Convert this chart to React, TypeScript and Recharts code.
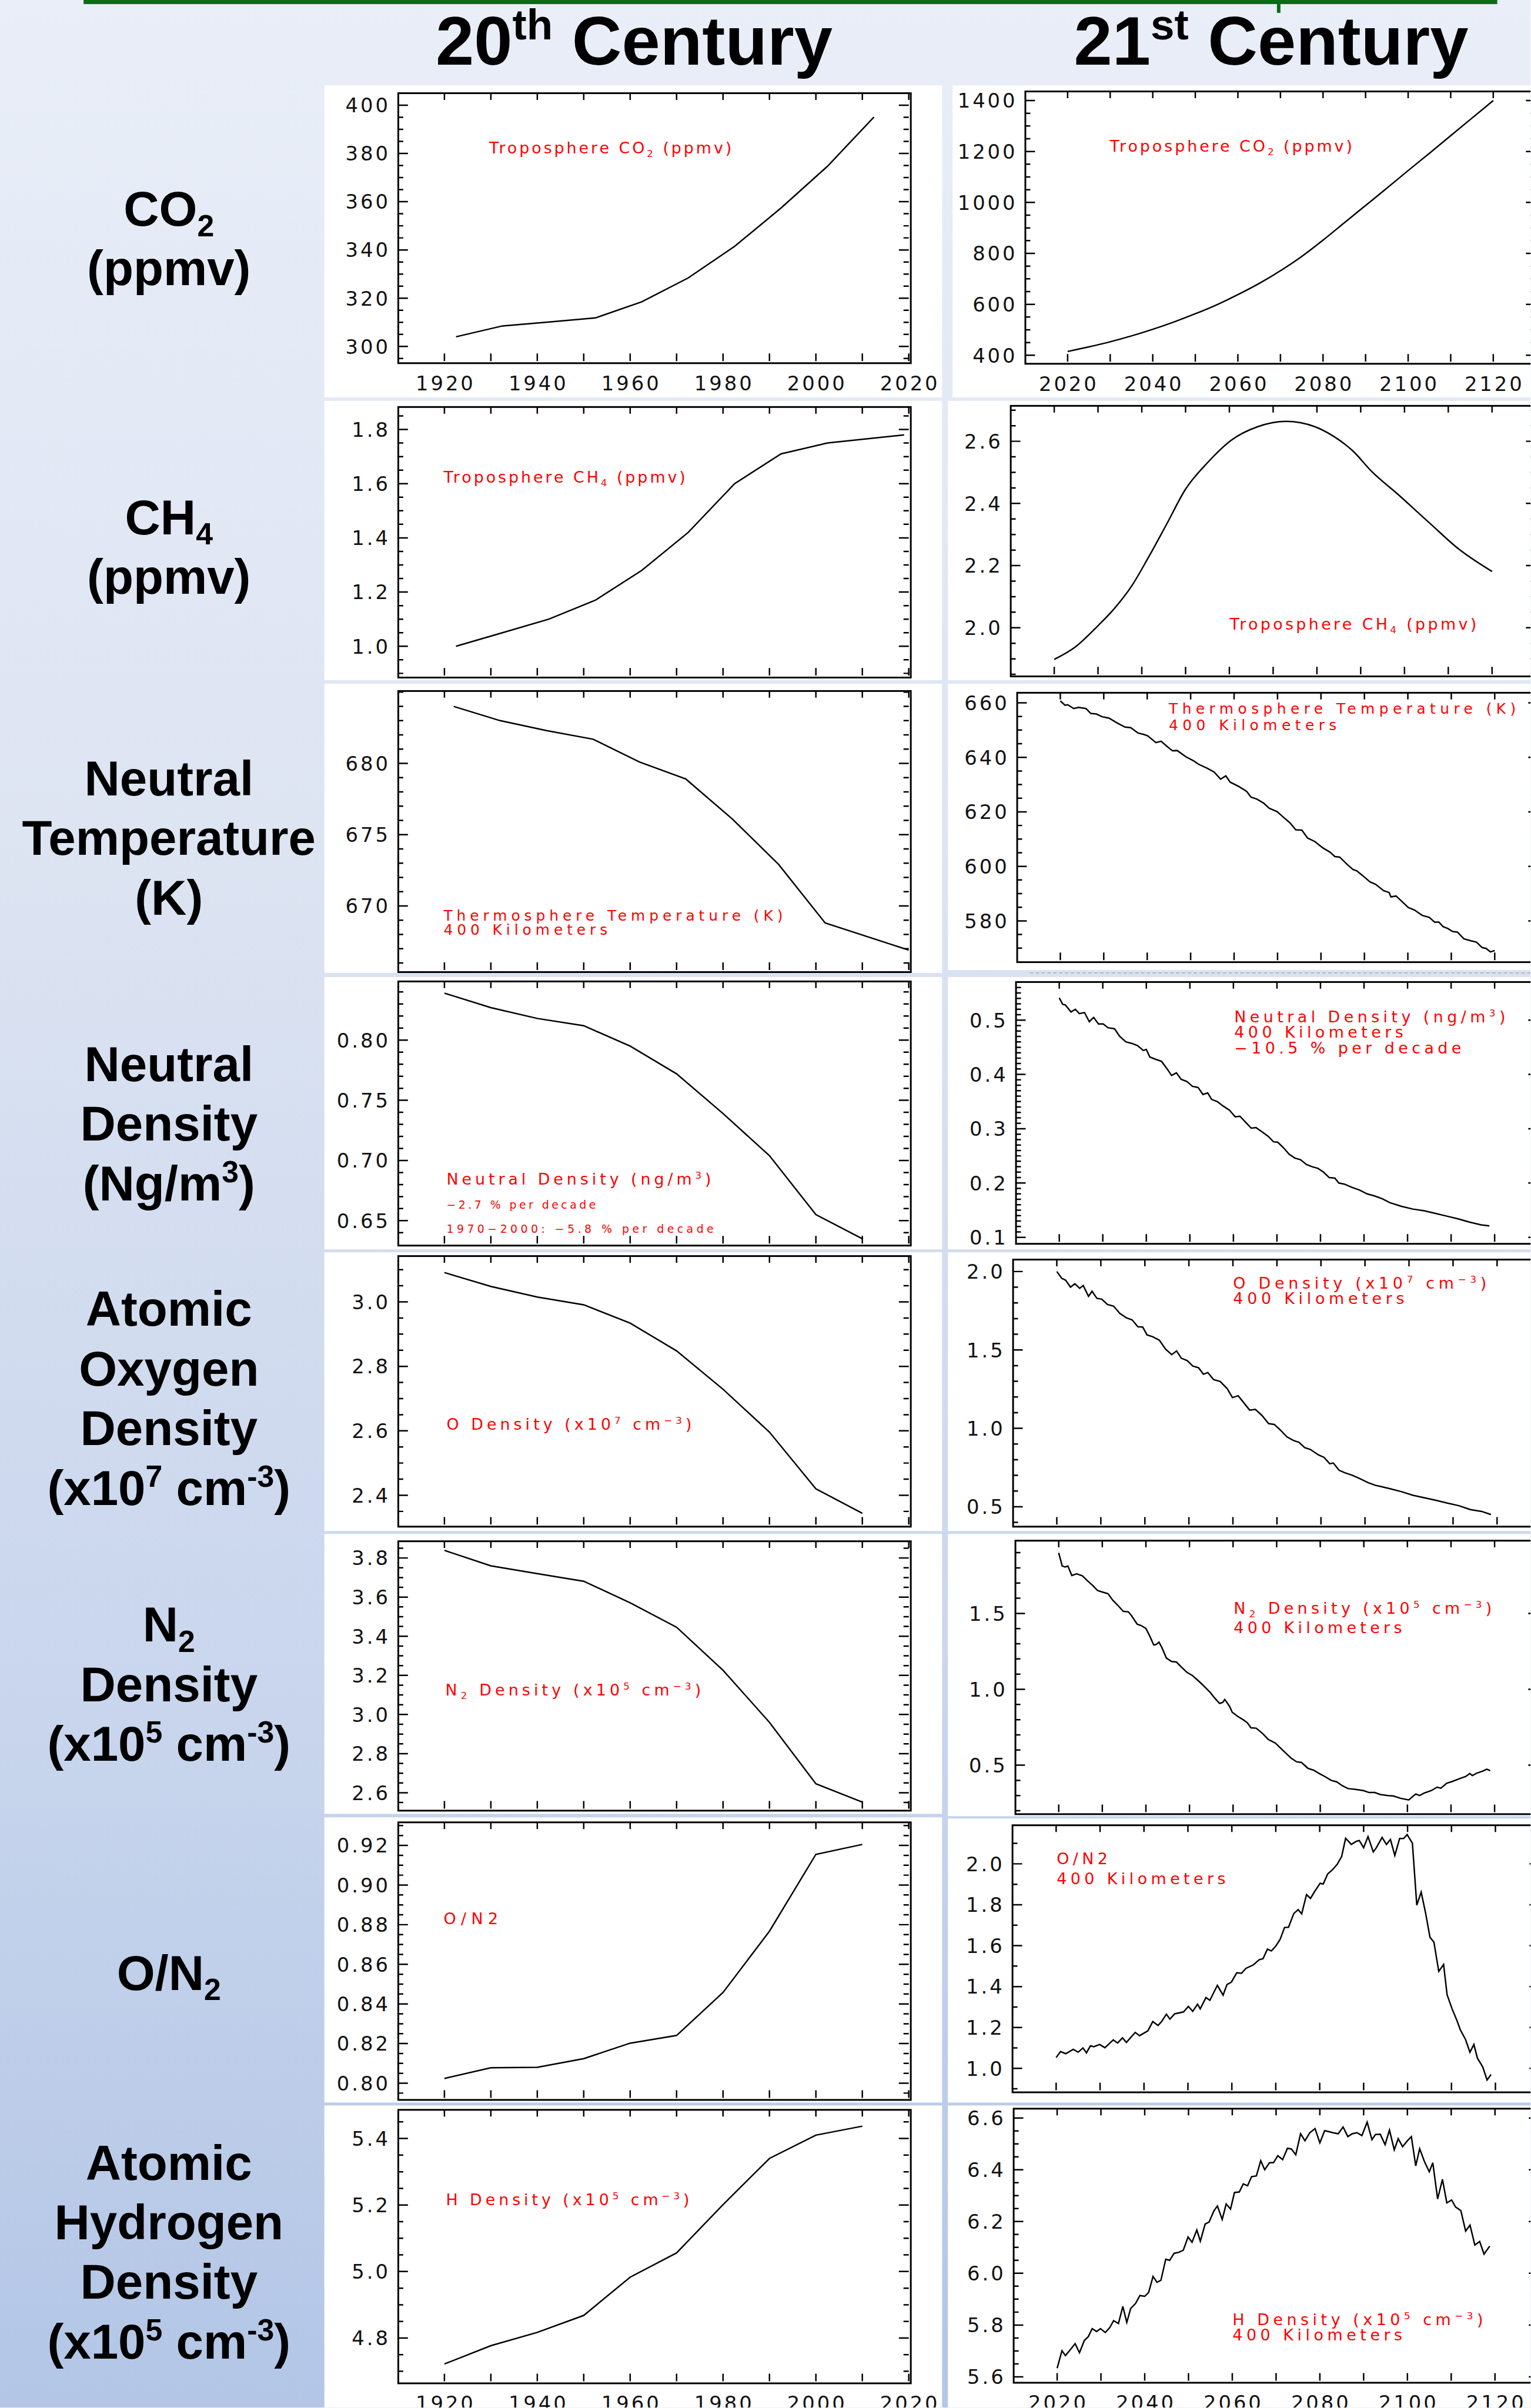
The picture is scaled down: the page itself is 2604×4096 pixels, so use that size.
import React from "react";
import { LineChart, Line, XAxis, YAxis } from "recharts";

type Pt = [number, number];

// ---- 20th century (left column) ----
const co2Years20 = [1922.5, 1932.5, 1942.5, 1952.5, 1962.5, 1972.5, 1982.5, 1992.5, 2002.5, 2012.5];
const co2Vals20 = [304.0, 308.5, 310.1, 311.8, 318.5, 328.4, 341.5, 357.4, 374.7, 395.1];
const ch4Years20 = [1922.5, 1932.5, 1942.5, 1952.5, 1962.5, 1972.5, 1982.5, 1992.5, 2002.5, 2019];
const ch4Vals20 = [1.0, 1.05, 1.1, 1.17, 1.28, 1.42, 1.6, 1.71, 1.75, 1.78];
const tempYears20 = [1922, 1932, 1942, 1952, 1962, 1972, 1982, 1992, 2002, 2020];
const tempVals20 = [684.0, 683.0, 682.3, 681.7, 680.1, 678.9, 676.1, 672.9, 668.8, 666.9];
const decades20 = [1920, 1930, 1940, 1950, 1960, 1970, 1980, 1990, 2000, 2010];
const densVals20 = [0.839, 0.827, 0.818, 0.812, 0.795, 0.772, 0.739, 0.704, 0.655, 0.635];
const oVals20 = [3.091, 3.048, 3.015, 2.991, 2.934, 2.848, 2.729, 2.596, 2.42, 2.344];
const n2Vals20 = [3.839, 3.76, 3.72, 3.681, 3.571, 3.446, 3.226, 2.96, 2.646, 2.552];
const on2Vals20 = [0.8024, 0.8078, 0.808, 0.8124, 0.8202, 0.8241, 0.8458, 0.8767, 0.9155, 0.9205];
const hVals20 = [4.722, 4.777, 4.817, 4.868, 4.983, 5.056, 5.201, 5.34, 5.41, 5.437];

// ---- 21st century (right column) ----
const co2Years21 = [2020, 2025, 2030, 2035, 2040, 2045, 2050, 2055, 2060, 2065, 2070, 2075, 2080, 2085, 2090, 2095, 2100, 2105, 2110, 2115, 2120];
const co2Vals21 = [415, 433, 453, 476, 502, 531, 563, 598, 638, 682, 732, 788, 852, 920, 988, 1056, 1125, 1193, 1262, 1331, 1400];
const ch4Pts21: Pt[] = [
  [2020, 1.898], [2024.9, 1.939], [2030.1, 2.008], [2033.5, 2.058], [2037.9, 2.139], [2041.3, 2.221],
  [2045.7, 2.334], [2050.0, 2.446], [2055.2, 2.534], [2060.4, 2.603], [2066.5, 2.647], [2073.0, 2.664],
  [2079.5, 2.647], [2083.8, 2.616], [2088.2, 2.569], [2092.5, 2.503], [2098.6, 2.428], [2105.5, 2.34],
  [2112.5, 2.252], [2120, 2.181],
];
const tempPts21: Pt[] = [
  [2020.0, 660.7], [2021.1, 659.1], [2021.7, 659.3], [2023.1, 657.9], [2024.2, 658.3], [2025.9, 657.9],
  [2027.0, 656.1], [2028.3, 655.9], [2029.6, 654.9], [2031.2, 654.4], [2033.1, 652.6], [2034.9, 651.1],
  [2036.2, 650.9], [2037.9, 648.9], [2039.2, 648.4], [2040.1, 647.9], [2042.0, 645.4], [2043.2, 645.9],
  [2044.5, 644.1], [2045.8, 642.4], [2046.9, 642.5], [2048.9, 640.2], [2050.6, 638.8], [2051.9, 637.4],
  [2053.7, 636.1], [2055.4, 634.6], [2056.9, 632.0], [2058.1, 633.2], [2059.1, 630.9], [2061.1, 629.3],
  [2062.9, 627.5], [2063.9, 625.4], [2065.2, 624.7], [2066.8, 623.2], [2068.1, 621.3], [2069.9, 620.1],
  [2071.6, 617.7], [2072.9, 615.9], [2074.2, 613.4], [2075.6, 613.3], [2076.9, 610.4], [2078.6, 609.1],
  [2080.4, 606.8], [2082.1, 605.2], [2083.2, 603.6], [2084.3, 603.4], [2086.1, 600.6], [2087.4, 598.8],
  [2088.2, 598.4], [2089.6, 596.6], [2091.3, 594.3], [2092.6, 593.4], [2094.4, 591.1], [2095.7, 590.4],
  [2096.1, 588.8], [2097.3, 589.1], [2098.7, 587.0], [2100.1, 584.9], [2101.5, 584.0], [2103.3, 582.0],
  [2104.9, 581.3], [2106.2, 579.5], [2107.1, 579.6], [2108.1, 577.9], [2109.2, 577.2], [2110.3, 576.1],
  [2111.4, 575.9], [2112.9, 573.4], [2114.5, 572.7], [2115.8, 572.2], [2117.1, 570.2], [2118.0, 569.9],
  [2119.0, 568.6], [2120.0, 569.1],
];
const densPts21: Pt[] = [
  [2020.0, 0.541], [2020.8, 0.529], [2021.4, 0.528], [2022.7, 0.515], [2023.7, 0.52], [2024.6, 0.512],
  [2025.8, 0.514], [2026.9, 0.497], [2027.9, 0.505], [2029.0, 0.493], [2030.1, 0.493], [2031.2, 0.486],
  [2032.7, 0.484], [2033.9, 0.47], [2035.3, 0.46], [2036.7, 0.457], [2038.0, 0.453], [2039.3, 0.444],
  [2040.0, 0.446], [2040.8, 0.432], [2042.1, 0.428], [2043.5, 0.424], [2044.7, 0.411], [2045.8, 0.398],
  [2046.9, 0.403], [2048.0, 0.391], [2049.3, 0.387], [2050.6, 0.378], [2051.9, 0.376], [2053.0, 0.363],
  [2054.1, 0.366], [2055.0, 0.354], [2056.3, 0.35], [2057.6, 0.342], [2059.1, 0.334], [2060.4, 0.322],
  [2061.5, 0.323], [2062.8, 0.312], [2064.1, 0.301], [2065.2, 0.302], [2066.3, 0.296], [2068.0, 0.286],
  [2069.2, 0.276], [2070.2, 0.275], [2071.5, 0.265], [2072.8, 0.253], [2074.1, 0.246], [2075.4, 0.243],
  [2076.8, 0.234], [2078.1, 0.23], [2079.4, 0.227], [2080.7, 0.22], [2082.0, 0.21], [2083.3, 0.209],
  [2084.2, 0.2], [2085.5, 0.198], [2087.2, 0.192], [2089.0, 0.187], [2090.7, 0.18], [2092.5, 0.176],
  [2094.2, 0.171], [2095.9, 0.164], [2098.6, 0.157], [2101.2, 0.152], [2103.8, 0.149], [2106.4, 0.144],
  [2109.0, 0.139], [2111.6, 0.134], [2114.2, 0.128], [2116.9, 0.123], [2118.8, 0.121],
];
const oPts21: Pt[] = [
  [2020.0, 2.0], [2021.1, 1.957], [2022.0, 1.945], [2023.1, 1.9], [2024.1, 1.922], [2025.2, 1.893],
  [2026.0, 1.911], [2027.2, 1.842], [2028.0, 1.874], [2029.1, 1.829], [2030.2, 1.824], [2031.5, 1.79],
  [2032.9, 1.779], [2034.3, 1.733], [2035.8, 1.705], [2037.1, 1.692], [2038.4, 1.648], [2039.5, 1.646],
  [2040.5, 1.596], [2041.8, 1.584], [2043.3, 1.562], [2044.7, 1.505], [2046.1, 1.47], [2047.2, 1.493],
  [2048.3, 1.447], [2049.6, 1.432], [2050.9, 1.397], [2052.2, 1.386], [2053.3, 1.345], [2054.3, 1.356],
  [2055.6, 1.311], [2057.1, 1.299], [2058.7, 1.253], [2059.9, 1.196], [2061.2, 1.208], [2062.5, 1.162],
  [2063.8, 1.116], [2065.1, 1.121], [2066.6, 1.082], [2068.1, 1.03], [2069.4, 1.025], [2070.7, 0.991],
  [2072.3, 0.945], [2073.8, 0.922], [2075.0, 0.911], [2076.3, 0.877], [2077.6, 0.865], [2079.4, 0.831],
  [2080.7, 0.815], [2082.0, 0.774], [2082.8, 0.779], [2084.1, 0.733], [2085.4, 0.717], [2087.1, 0.701],
  [2088.9, 0.678], [2090.6, 0.655], [2092.3, 0.637], [2094.0, 0.626], [2095.8, 0.614], [2098.3, 0.596],
  [2100.9, 0.573], [2103.5, 0.557], [2106.1, 0.541], [2108.7, 0.523], [2111.3, 0.507], [2113.9, 0.482],
  [2116.5, 0.47], [2118.6, 0.45],
];
const n2Pts21: Pt[] = [
  [2020.0, 1.899], [2020.8, 1.812], [2021.5, 1.806], [2022.1, 1.812], [2023.0, 1.75], [2024.1, 1.761],
  [2025.4, 1.748], [2026.7, 1.712], [2027.8, 1.684], [2028.9, 1.651], [2030.2, 1.639], [2031.3, 1.63],
  [2032.4, 1.587], [2033.7, 1.549], [2034.8, 1.514], [2036.0, 1.51], [2036.7, 1.485], [2038.0, 1.429],
  [2038.9, 1.42], [2040.0, 1.401], [2040.9, 1.35], [2041.8, 1.292], [2042.4, 1.296], [2043.0, 1.311],
  [2043.7, 1.273], [2044.7, 1.206], [2045.9, 1.183], [2047.0, 1.18], [2048.0, 1.151], [2049.4, 1.112],
  [2050.7, 1.09], [2052.0, 1.057], [2053.3, 1.022], [2054.8, 0.978], [2055.7, 0.945], [2056.9, 0.907],
  [2057.6, 0.913], [2058.1, 0.933], [2059.2, 0.888], [2059.8, 0.849], [2061.1, 0.821], [2062.4, 0.798],
  [2063.3, 0.779], [2064.1, 0.746], [2065.3, 0.744], [2066.8, 0.708], [2068.1, 0.669], [2069.7, 0.646],
  [2070.7, 0.618], [2072.0, 0.582], [2073.3, 0.547], [2074.6, 0.522], [2075.7, 0.518], [2077.2, 0.479],
  [2078.5, 0.467], [2079.8, 0.445], [2081.2, 0.423], [2082.5, 0.4], [2083.8, 0.39], [2085.1, 0.364],
  [2086.4, 0.346], [2088.1, 0.341], [2089.9, 0.333], [2091.2, 0.32], [2092.5, 0.32], [2093.8, 0.307],
  [2095.5, 0.3], [2096.8, 0.297], [2098.4, 0.282], [2100.3, 0.271], [2101.9, 0.31], [2102.8, 0.3],
  [2103.8, 0.316], [2105.5, 0.333], [2106.8, 0.355], [2107.7, 0.349], [2109.0, 0.381], [2110.3, 0.393],
  [2112.1, 0.413], [2113.4, 0.426], [2114.3, 0.445], [2114.9, 0.432], [2116.0, 0.449], [2117.3, 0.461],
  [2118.2, 0.474], [2119.0, 0.464],
];
const on2Pts21: Pt[] = [
  [2020.0, 1.053], [2021.0, 1.082], [2022.2, 1.072], [2023.9, 1.093], [2025.0, 1.079], [2026.1, 1.1],
  [2026.9, 1.076], [2027.8, 1.11], [2028.6, 1.106], [2029.9, 1.117], [2031.1, 1.101], [2033.0, 1.139],
  [2034.0, 1.124], [2035.1, 1.149], [2036.0, 1.127], [2038.0, 1.176], [2039.0, 1.16], [2040.9, 1.184],
  [2042.0, 1.229], [2043.2, 1.21], [2044.0, 1.229], [2045.1, 1.265], [2045.9, 1.241], [2047.0, 1.267],
  [2049.0, 1.276], [2050.1, 1.303], [2051.1, 1.279], [2052.2, 1.314], [2052.8, 1.291], [2054.1, 1.346],
  [2055.0, 1.333], [2056.7, 1.406], [2058.0, 1.358], [2058.9, 1.41], [2059.9, 1.422], [2061.1, 1.467],
  [2062.2, 1.465], [2063.2, 1.489], [2064.9, 1.506], [2066.2, 1.531], [2067.1, 1.536], [2068.1, 1.583],
  [2069.0, 1.574], [2070.0, 1.598], [2071.0, 1.631], [2072.0, 1.689], [2072.9, 1.69], [2074.1, 1.757],
  [2075.1, 1.776], [2075.9, 1.755], [2077.0, 1.85], [2077.9, 1.831], [2078.8, 1.863], [2080.1, 1.905],
  [2080.8, 1.901], [2081.8, 1.95], [2082.9, 1.971], [2084.0, 1.998], [2085.0, 2.036], [2085.9, 2.125],
  [2087.2, 2.095], [2088.3, 2.11], [2089.0, 2.114], [2090.0, 2.079], [2091.0, 2.133], [2092.2, 2.058],
  [2092.9, 2.079], [2094.2, 2.129], [2095.2, 2.095], [2096.1, 2.119], [2097.1, 2.041], [2098.2, 2.124],
  [2099.1, 2.124], [2099.9, 2.143], [2101.1, 2.101], [2102.1, 1.798], [2103.1, 1.862], [2104.1, 1.76],
  [2105.1, 1.641], [2106.0, 1.617], [2107.1, 1.474], [2108.2, 1.508], [2109.0, 1.36], [2110.1, 1.293],
  [2111.2, 1.236], [2112.0, 1.189], [2113.2, 1.141], [2114.2, 1.079], [2115.1, 1.117], [2115.9, 1.05],
  [2117.1, 1.008], [2118.1, 0.943], [2119.0, 0.97],
];
const hPts21: Pt[] = [
  [2020.0, 5.633], [2021.1, 5.701], [2021.9, 5.682], [2023.2, 5.709], [2024.1, 5.728], [2025.1, 5.693],
  [2026.2, 5.74], [2027.1, 5.755], [2028.0, 5.786], [2029.0, 5.775], [2029.9, 5.786], [2031.0, 5.771],
  [2032.0, 5.79], [2032.9, 5.817], [2034.0, 5.806], [2035.0, 5.872], [2035.9, 5.81], [2036.8, 5.864],
  [2037.9, 5.883], [2038.9, 5.914], [2040.0, 5.911], [2040.9, 5.926], [2041.9, 5.988], [2042.8, 5.965],
  [2043.7, 5.973], [2044.8, 6.054], [2045.7, 6.05], [2046.7, 6.077], [2047.8, 6.081], [2048.8, 6.089],
  [2049.9, 6.14], [2050.8, 6.12], [2051.9, 6.167], [2052.7, 6.124], [2053.8, 6.19], [2054.7, 6.198],
  [2055.8, 6.241], [2056.6, 6.26], [2057.7, 6.208], [2058.6, 6.268], [2059.6, 6.248], [2060.5, 6.312],
  [2061.6, 6.314], [2062.5, 6.345], [2063.5, 6.338], [2064.4, 6.373], [2065.5, 6.376], [2066.5, 6.435],
  [2067.4, 6.4], [2068.5, 6.427], [2069.4, 6.427], [2070.4, 6.454], [2071.5, 6.439], [2072.6, 6.483],
  [2073.5, 6.48], [2074.5, 6.458], [2075.6, 6.539], [2076.6, 6.512], [2077.7, 6.543], [2078.9, 6.559],
  [2080.0, 6.504], [2081.1, 6.551], [2082.1, 6.547], [2083.0, 6.543], [2084.2, 6.539], [2085.3, 6.565],
  [2086.4, 6.528], [2087.4, 6.539], [2088.5, 6.543], [2089.6, 6.532], [2090.8, 6.584], [2091.9, 6.516],
  [2092.7, 6.536], [2093.8, 6.537], [2094.9, 6.497], [2095.9, 6.553], [2097.0, 6.477], [2097.9, 6.52],
  [2098.9, 6.489], [2100.0, 6.512], [2100.9, 6.528], [2101.9, 6.415], [2102.8, 6.481], [2103.9, 6.431],
  [2105.0, 6.392], [2105.8, 6.427], [2106.9, 6.287], [2108.0, 6.363], [2109.0, 6.272], [2110.1, 6.283],
  [2111.0, 6.256], [2112.2, 6.242], [2113.3, 6.163], [2114.3, 6.186], [2115.4, 6.109], [2116.5, 6.123],
  [2117.5, 6.074], [2118.8, 6.105],
];

// axis ticks
const xTicks20 = [1920, 1930, 1940, 1950, 1960, 1970, 1980, 1990, 2000, 2010, 2020];
const xLabels20 = [1920, 1940, 1960, 1980, 2000, 2020];
const xTicks21 = [2020, 2030, 2040, 2050, 2060, 2070, 2080, 2090, 2100, 2110, 2120];
const xLabels21 = [2020, 2040, 2060, 2080, 2100, 2120];

const zip = (xs: number[], ys: number[]): Pt[] => xs.map((x, i) => [x, ys[i]]);

function steps(lo: number, hi: number, step: number) {
  const out: number[] = [];
  const start = Math.ceil(lo / step - 1e-9);
  for (let i = start; i * step <= hi + 1e-9; i++) out.push(Math.round(i * step * 1e6) / 1e6);
  return out;
}

interface PanelSpec {
  l: number; t: number; r: number; b: number;
  xDomain: [number, number];
  xTicks: number[];
  xLabels: number[] | null;
  yDomain: [number, number];
  yMajor: number[];
  yMinor: number;
  dec: number;
  pts: Pt[];
  curve?: "linear" | "monotone";
}

const LX: [number, number] = [1910, 2020];
const RX: [number, number] = [2010, 2130];

const panels: PanelSpec[] = [
  { l: 681, t: 159, r: 1555, b: 618, xDomain: LX, xTicks: xTicks20, xLabels: xLabels20, yDomain: [293.9, 405.1], yMajor: [300, 320, 340, 360, 380, 400], yMinor: 5, dec: 0, pts: zip(co2Years20, co2Vals20) },
  { l: 681, t: 696, r: 1555, b: 1156, xDomain: LX, xTicks: xTicks20, xLabels: null, yDomain: [0.892, 1.884], yMajor: [1.0, 1.2, 1.4, 1.6, 1.8], yMinor: 0.05, dec: 1, pts: zip(ch4Years20, ch4Vals20) },
  { l: 681, t: 1182, r: 1555, b: 1660, xDomain: LX, xTicks: xTicks20, xLabels: null, yDomain: [665.5, 685.1], yMajor: [670, 675, 680], yMinor: 1, dec: 0, pts: zip(tempYears20, tempVals20) },
  { l: 681, t: 1679, r: 1555, b: 2128, xDomain: LX, xTicks: xTicks20, xLabels: null, yDomain: [0.631, 0.849], yMajor: [0.65, 0.7, 0.75, 0.8], yMinor: 0.01, dec: 2, pts: zip(decades20, densVals20) },
  { l: 681, t: 2149, r: 1555, b: 2609, xDomain: LX, xTicks: xTicks20, xLabels: null, yDomain: [2.309, 3.143], yMajor: [2.4, 2.6, 2.8, 3.0], yMinor: 0.05, dec: 1, pts: zip(decades20, oVals20) },
  { l: 681, t: 2637, r: 1555, b: 3095, xDomain: LX, xTicks: xTicks20, xLabels: null, yDomain: [2.519, 3.887], yMajor: [2.6, 2.8, 3.0, 3.2, 3.4, 3.6, 3.8], yMinor: 0.05, dec: 1, pts: zip(decades20, n2Vals20) },
  { l: 681, t: 3118, r: 1555, b: 3590, xDomain: LX, xTicks: xTicks20, xLabels: null, yDomain: [0.7926, 0.9318], yMajor: [0.8, 0.82, 0.84, 0.86, 0.88, 0.9, 0.92], yMinor: 0.005, dec: 2, pts: zip(decades20, on2Vals20) },
  { l: 681, t: 3610, r: 1555, b: 4075, xDomain: LX, xTicks: xTicks20, xLabels: xLabels20, yDomain: [4.67, 5.487], yMajor: [4.8, 5.0, 5.2, 5.4], yMinor: 0.05, dec: 1, pts: zip(decades20, hVals20) },

  { l: 1754, t: 156, r: 2628, b: 619, xDomain: RX, xTicks: xTicks21, xLabels: xLabels21, yDomain: [374.8, 1436.7], yMajor: [400, 600, 800, 1000, 1200, 1400], yMinor: 50, dec: 0, pts: zip(co2Years21, co2Vals21), curve: "monotone" },
  { l: 1729, t: 694, r: 2628, b: 1154, xDomain: RX, xTicks: xTicks21, xLabels: null, yDomain: [1.85, 2.715], yMajor: [2.0, 2.2, 2.4, 2.6], yMinor: 0.05, dec: 1, pts: ch4Pts21, curve: "monotone" },
  { l: 1740, t: 1185, r: 2632, b: 1643, xDomain: RX, xTicks: xTicks21, xLabels: null, yDomain: [565.6, 663.8], yMajor: [580, 600, 620, 640, 660], yMinor: 5, dec: 0, pts: tempPts21 },
  { l: 1738, t: 1680, r: 2632, b: 2125, xDomain: RX, xTicks: xTicks21, xLabels: null, yDomain: [0.0918, 0.5707], yMajor: [0.1, 0.2, 0.3, 0.4, 0.5], yMinor: 0.01, dec: 1, pts: densPts21 },
  { l: 1733, t: 2155, r: 2637, b: 2609, xDomain: RX, xTicks: xTicks21, xLabels: null, yDomain: [0.386, 2.078], yMajor: [0.5, 1.0, 1.5, 2.0], yMinor: 0.1, dec: 1, pts: oPts21 },
  { l: 1737, t: 2636, r: 2632, b: 3101, xDomain: RX, xTicks: xTicks21, xLabels: null, yDomain: [0.191, 1.981], yMajor: [0.5, 1.0, 1.5], yMinor: 0.1, dec: 1, pts: n2Pts21 },
  { l: 1732, t: 3123, r: 2634, b: 3577, xDomain: RX, xTicks: xTicks21, xLabels: null, yDomain: [0.893, 2.19], yMajor: [1.0, 1.2, 1.4, 1.6, 1.8, 2.0], yMinor: 0.1, dec: 1, pts: on2Pts21 },
  { l: 1734, t: 3608, r: 2633, b: 4074, xDomain: RX, xTicks: xTicks21, xLabels: xLabels21, yDomain: [5.585, 6.637], yMajor: [5.6, 5.8, 6.0, 6.2, 6.4, 6.6], yMinor: 0.05, dec: 1, pts: hPts21 },
];

const TICK_FONT = "'DejaVu Sans', sans-serif";
const TICK_FS = 34;
const TICK_LS = 4;
const ML = 140, MR = 80, MT = 20, MB = 80;
// axes get a 1px box (a 0px one is not drawn at all); margins are trimmed by that pixel
const AX = 1;

function Panel({ p }: { p: PanelSpec }) {
  const pw = p.r - p.l;
  const ph = p.b - p.t;
  const w = pw + ML + MR;
  const h = ph + MT + MB;
  const data = p.pts.map(([x, y]) => ({ x, y }));
  const yTicks = steps(p.yDomain[0], p.yDomain[1], p.yMinor);
  const isMajor = (v: number) => p.yMajor.some((m) => Math.abs(m - v) < 1e-7);
  const top = MT, bottom = MT + ph, left = ML, right = ML + pw;

  const XTick = (props: any) => {
    const { x, payload } = props;
    const v = payload.value;
    return (
      <g>
        <line x1={x} x2={x} y1={bottom} y2={bottom - 13} stroke="#000" strokeWidth={2.5} />
        <line x1={x} x2={x} y1={top} y2={top + 12} stroke="#000" strokeWidth={2.5} />
        {p.xLabels && p.xLabels.includes(v) && (
          <text x={x + TICK_LS / 2} y={bottom + 50} textAnchor="middle" fontSize={TICK_FS} letterSpacing={TICK_LS} fontFamily={TICK_FONT} fill="#111">
            {v}
          </text>
        )}
      </g>
    );
  };

  const YTick = (props: any) => {
    const { y, payload } = props;
    const v = payload.value;
    const major = isMajor(v);
    const len = major ? 17 : 9;
    return (
      <g>
        <line x1={left} x2={left + len} y1={y} y2={y} stroke="#000" strokeWidth={2.5} />
        <line x1={right} x2={right - len} y1={y} y2={y} stroke="#000" strokeWidth={2.5} />
        {major && (
          <text x={left - 17 + TICK_LS} y={y + 12.4} textAnchor="end" fontSize={TICK_FS} letterSpacing={TICK_LS} fontFamily={TICK_FONT} fill="#111">
            {v.toFixed(p.dec)}
          </text>
        )}
      </g>
    );
  };

  return (
    <div style={{ position: "absolute", left: p.l - ML, top: p.t - MT, width: w, height: h }}>
      <LineChart width={w} height={h} data={data} margin={{ top: MT, right: MR, bottom: MB - AX, left: ML - AX }}>
        <XAxis
          dataKey="x"
          type="number"
          domain={p.xDomain}
          allowDataOverflow
          ticks={p.xTicks}
          interval={0}
          tick={XTick}
          tickLine={false}
          axisLine={false}
          tickSize={0}
          tickMargin={0}
          height={AX}
        />
        <YAxis
          type="number"
          domain={p.yDomain}
          allowDataOverflow
          ticks={yTicks}
          interval={0}
          tick={YTick}
          tickLine={false}
          axisLine={false}
          tickSize={0}
          tickMargin={0}
          width={AX}
        />
        <Line
          dataKey="y"
          type={p.curve ?? "linear"}
          stroke="#000"
          strokeWidth={2.5}
          dot={false}
          activeDot={false}
          isAnimationActive={false}
        />
      </LineChart>
      <div
        style={{
          position: "absolute",
          left: ML - 1.5,
          top: MT - 1.5,
          width: pw,
          height: ph,
          border: "3px solid #000",
          pointerEvents: "none",
        }}
      />
    </div>
  );
}

const Sb = ({ children }: { children: React.ReactNode }) => (
  <span style={{ fontSize: "0.62em", position: "relative", top: "0.35em", lineHeight: 0 }}>{children}</span>
);
const Sp = ({ children }: { children: React.ReactNode }) => (
  <span style={{ fontSize: "0.62em", position: "relative", top: "-0.6em", lineHeight: 0 }}>{children}</span>
);

interface Note { x: number; y: number; fs: number; lh: number; ls: number; lines: React.ReactNode[] }

const km = "400 Kilometers";
const notes: Note[] = [
  { x: 837, y: 263, fs: 27, lh: 30, ls: 4, lines: [<>Troposphere CO<Sb>2</Sb> (ppmv)</>] },
  { x: 1899, y: 260, fs: 27, lh: 30, ls: 4, lines: [<>Troposphere CO<Sb>2</Sb> (ppmv)</>] },
  { x: 759, y: 826, fs: 27, lh: 30, ls: 4, lines: [<>Troposphere CH<Sb>4</Sb> (ppmv)</>] },
  { x: 2104, y: 1077, fs: 27, lh: 30, ls: 4.4, lines: [<>Troposphere CH<Sb>4</Sb> (ppmv)</>] },
  { x: 759, y: 1575, fs: 25, lh: 25, ls: 7, lines: ["Thermosphere Temperature (K)", km] },
  { x: 2000, y: 1222, fs: 25, lh: 28, ls: 7.5, lines: ["Thermosphere Temperature (K)", km] },
  { x: 764, y: 2027, fs: 27, lh: 30, ls: 6, lines: [<>Neutral Density (ng/m<Sp>3</Sp>)</>] },
  { x: 764, y: 2068, fs: 19, lh: 22, ls: 4.5, lines: ["\u22122.7 % per decade"] },
  { x: 764, y: 2110, fs: 19, lh: 22, ls: 5.5, lines: ["1970\u22122000: \u22125.8 % per decade"] },
  { x: 2112, y: 1749, fs: 27, lh: 27, ls: 6.5, lines: [<>Neutral Density (ng/m<Sp>3</Sp>)</>, km, "\u221210.5 % per decade"] },
  { x: 764, y: 2447, fs: 27, lh: 30, ls: 6.1, lines: [<>O Density (x10<Sp>7</Sp> cm<Sp>{"\u22123"}</Sp>)</>] },
  { x: 2110, y: 2205, fs: 27, lh: 26, ls: 6.8, lines: [<>O Density (x10<Sp>7</Sp> cm<Sp>{"\u22123"}</Sp>)</>, km] },
  { x: 762, y: 2901, fs: 27, lh: 30, ls: 6.2, lines: [<>N<Sb>2</Sb> Density (x10<Sp>5</Sp> cm<Sp>{"\u22123"}</Sp>)</>] },
  { x: 2111, y: 2762, fs: 27, lh: 33, ls: 6.4, lines: [<>N<Sb>2</Sb> Density (x10<Sp>5</Sp> cm<Sp>{"\u22123"}</Sp>)</>, km] },
  { x: 759, y: 3293, fs: 27, lh: 30, ls: 8.5, lines: ["O/N2"] },
  { x: 1808, y: 3190, fs: 27, lh: 34, ls: 6.5, lines: ["O/N2", km] },
  { x: 763, y: 3774, fs: 27, lh: 30, ls: 6, lines: [<>H Density (x10<Sp>5</Sp> cm<Sp>{"\u22123"}</Sp>)</>] },
  { x: 2109, y: 3979, fs: 27, lh: 26, ls: 6.6, lines: [<>H Density (x10<Sp>5</Sp> cm<Sp>{"\u22123"}</Sp>)</>, km] },
];

const rowLabels: { cy: number; lines: React.ReactNode[] }[] = [
  { cy: 408, lines: [<>CO<Sb>2</Sb></>, "(ppmv)"] },
  { cy: 936, lines: [<>CH<Sb>4</Sb></>, "(ppmv)"] },
  { cy: 1434, lines: ["Neutral", "Temperature", "(K)"] },
  { cy: 1923, lines: ["Neutral", "Density", <>(Ng/m<Sp>3</Sp>)</>] },
  { cy: 2393, lines: ["Atomic", "Oxygen", "Density", <>(x10<Sp>7</Sp> cm<Sp>-3</Sp>)</>] },
  { cy: 2882, lines: [<>N<Sb>2</Sb></>, "Density", <>(x10<Sp>5</Sp> cm<Sp>-3</Sp>)</>] },
  { cy: 3376, lines: [<>O/N<Sb>2</Sb></>] },
  { cy: 3854, lines: ["Atomic", "Hydrogen", "Density", <>(x10<Sp>5</Sp> cm<Sp>-3</Sp>)</>] },
];

// white panel backgrounds [left, top, right, bottom]
const panelBgs: [number, number, number, number][] = [
  [555, 146, 1612, 680], [555, 686, 1612, 1164], [555, 1170, 1612, 1665], [555, 1672, 1612, 2138],
  [555, 2143, 1612, 2620], [555, 2625, 1612, 3104], [555, 3110, 1612, 3598], [555, 3603, 1612, 4120],
  [1630, 146, 2619, 680], [1622, 686, 2619, 1164], [1622, 1170, 2619, 1660], [1622, 1672, 2619, 2138],
  [1622, 2143, 2619, 2620], [1622, 2625, 2619, 3108], [1622, 3112, 2619, 3598], [1622, 3603, 2619, 4120],
];

const BOLD = "'Liberation Sans', Arial, sans-serif";

export default function App() {
  return (
    <div style={{ width: 2604, height: 4096, overflow: "hidden", position: "relative" }}>
      <style>{"body{margin:0}"}</style>
      <div
        style={{
          position: "absolute",
          left: 0,
          top: 0,
          width: 2619,
          height: 4120,
          transform: "scale(0.994)",
          transformOrigin: "0 0",
          background: "linear-gradient(to bottom, #e9eef8 0%, #dde4f2 35%, #c9d6ed 70%, #b3c6e6 100%)",
          overflow: "hidden",
        }}
      >
        {/* green banner line */}
        <div style={{ position: "absolute", left: 143, top: 0, width: 2419, height: 7, background: "#0b6b19" }} />
        <div style={{ position: "absolute", left: 2185, top: 0, width: 6, height: 22, background: "#0b6b19" }} />

        {/* column headers */}
        {[
          { cx: 1085, node: <>20<Sp>th</Sp> Century</> },
          { cx: 2175, node: <>21<Sp>st</Sp> Century</> },
        ].map((hd, i) => (
          <div
            key={i}
            style={{
              position: "absolute",
              left: hd.cx - 500,
              width: 1000,
              top: 11,
              textAlign: "center",
              fontFamily: BOLD,
              fontWeight: 700,
              fontSize: 118,
              lineHeight: "118px",
              whiteSpace: "nowrap",
              color: "#000",
            }}
          >
            {hd.node}
          </div>
        ))}

        {/* row labels */}
        {rowLabels.map((rl, i) => (
          <div
            key={i}
            style={{
              position: "absolute",
              left: 0,
              width: 578,
              top: rl.cy - (rl.lines.length * 102) / 2,
              textAlign: "center",
              fontFamily: BOLD,
              fontWeight: 700,
              fontSize: 84,
              lineHeight: "102px",
              color: "#000",
              whiteSpace: "nowrap",
            }}
          >
            {rl.lines.map((ln, j) => (
              <div key={j}>{ln}</div>
            ))}
          </div>
        ))}

        {panelBgs.map(([l, t, r, b], i) => (
          <div key={i} style={{ position: "absolute", left: l, top: t, width: r - l, height: b - t, background: "#fff" }} />
        ))}

        {/* faint dashed artefact above the right density panel */}
        <div style={{ position: "absolute", left: 1762, top: 1664, width: 857, height: 0, borderTop: "2px dashed #b8b8b8" }} />

        {panels.map((p, i) => (
          <Panel key={i} p={p} />
        ))}

        {notes.map((n, i) => (
          <div
            key={i}
            style={{
              position: "absolute",
              left: n.x,
              top: n.y - n.lh / 2 - 0.346 * n.fs,
              fontFamily: TICK_FONT,
              fontSize: n.fs,
              lineHeight: `${n.lh}px`,
              letterSpacing: n.ls,
              color: "#ff0000",
              whiteSpace: "nowrap",
            }}
          >
            {n.lines.map((ln, j) => (
              <div key={j}>{ln}</div>
            ))}
          </div>
        ))}
      </div>
    </div>
  );
}
